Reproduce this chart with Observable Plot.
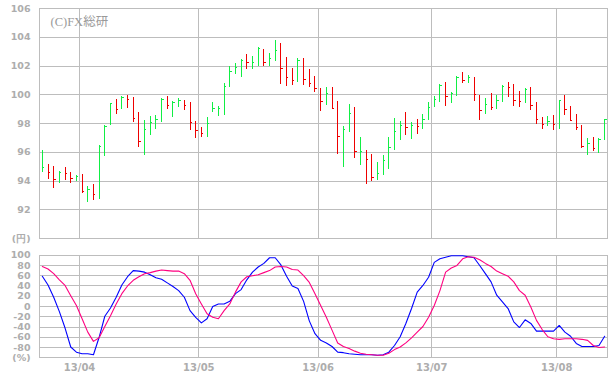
<!DOCTYPE html>
<html><head><meta charset="utf-8">
<script src="https://cdn.jsdelivr.net/npm/d3@7"></script>
<script src="https://cdn.jsdelivr.net/npm/@observablehq/plot@0.6"></script>
<style>
body{margin:0;background:#fff;}
#c{position:relative;width:610px;height:380px;overflow:hidden;}
#c svg{position:absolute;left:0;}
</style></head><body><div id="c"></div>
<script>
// Daily bars (high / low / close), 100 trading days, 2013/03 – 2013/08
const high = [96.12,95.14,95.00,94.63,94.93,94.56,94.40,94.42,93.63,93.74,
96.44,97.84,99.40,99.65,99.86,99.93,99.81,98.77,98.21,98.47,
98.56,99.74,99.88,99.53,99.77,99.60,99.47,98.14,97.72,98.42,
99.47,99.16,100.79,101.98,102.19,102.47,102.81,102.67,103.30,103.16,
102.88,103.79,103.58,102.60,101.86,102.51,102.53,101.79,101.28,100.42,
100.47,100.51,99.53,97.79,99.33,99.12,97.02,96.12,95.84,95.28,
95.77,97.02,98.35,98.14,98.77,98.07,98.26,98.60,99.47,99.88,
100.72,100.86,100.14,101.28,101.56,101.35,101.21,99.95,99.74,100.09,
99.93,100.63,100.86,100.70,100.26,100.44,100.51,99.49,98.40,98.49,
98.56,99.58,99.95,99.19,98.63,97.86,96.98,97.02,96.95,98.30];
const low = [94.56,94.12,93.51,93.84,94.02,93.84,93.98,93.16,92.51,92.67,
92.70,95.72,97.84,98.60,98.95,99.07,98.07,96.30,95.79,97.19,
97.60,98.09,98.95,98.44,99.14,98.93,97.53,96.98,97.00,97.05,
98.79,98.51,98.56,100.47,101.44,101.23,101.79,101.79,102.00,102.00,
102.00,102.28,100.74,100.60,100.67,100.88,100.67,100.49,100.19,98.86,
99.28,98.95,95.86,94.95,97.40,95.58,95.09,93.77,93.98,94.05,
94.40,94.81,96.14,96.84,97.19,96.91,97.23,97.56,98.23,99.14,
99.49,99.21,99.42,99.86,100.77,100.79,99.56,98.23,98.65,98.88,
99.00,99.44,99.79,99.21,99.14,99.37,98.88,97.91,97.60,97.77,
97.53,97.60,98.58,98.19,97.49,96.28,95.79,96.05,95.88,96.79];
const close = [94.93,94.56,94.12,94.56,94.49,94.19,94.33,93.30,93.44,93.07,
96.40,97.79,99.37,98.98,99.79,99.65,98.33,96.72,97.56,98.07,
98.26,99.65,99.23,99.47,99.58,99.28,98.07,97.49,97.33,97.98,
99.02,99.02,100.58,101.60,101.88,102.40,102.21,102.21,103.23,102.23,
102.53,103.07,101.81,101.19,101.02,102.37,101.05,100.79,100.42,99.51,
100.09,99.02,97.07,97.58,98.67,96.02,96.02,95.47,94.26,94.51,
95.40,96.35,97.42,97.84,97.70,97.84,97.77,98.28,99.14,99.67,
100.67,99.86,100.07,101.21,100.98,101.19,100.00,98.88,99.35,99.09,
99.60,100.56,100.49,99.58,99.51,100.40,99.23,98.26,97.91,98.12,
97.91,99.58,98.95,98.21,97.72,96.42,96.60,96.23,96.91,98.26];
// Oscillator (%K blue, %D pink)
const oscK = [59,42,18,-10,-42,-79,-89,-92,-92,-94,
-60,-19,-3,18,42,58,70,69,67,62,
56,53,46,39,31,18,-8,-21,-32,-24,
0,5,5,10,25,33,52,67,77,84,
95,95,81,59,40,35,10,-28,-53,-66,
-71,-78,-89,-90,-92,-93,-94,-94,-94,-95,
-94,-89,-76,-59,-33,-4,28,41,57,86,
93,96,99,99,99,97,95,80,64,48,
22,9,-4,-30,-41,-26,-33,-48,-48,-48,
-48,-37,-50,-58,-72,-78,-78,-78,-76,-58];
const oscD = [78,73,64,52,41,21,2,-24,-50,-68,
-61,-39,-18,5,25,40,51,58,64,66,
69,71,70,69,69,64,51,25,5,-14,
-21,-24,-8,5,28,48,58,60,62,66,
70,77,78,77,72,71,60,47,25,2,
-21,-46,-71,-78,-82,-87,-91,-93,-94,-95,
-95,-91,-84,-79,-71,-61,-50,-39,-21,2,
31,67,75,80,93,97,96,91,84,78,
69,64,59,48,31,22,-1,-27,-45,-59,
-63,-64,-63,-63,-63,-64,-66,-76,-80,-79];
// Month boundaries (index of first bar of month) and labels
const monthStart = [7, 28, 49, 69, 91];
const monthLabels = ["13/04", "13/05", "13/06", "13/07", "13/08"];
const priceTicks = [90, 92, 94, 96, 98, 100, 102, 104, 106];
const priceTickLabels = ["(円)", "92", "94", "96", "98", "100", "102", "104", "106"];
const oscTicks = [-100, -80, -60, -40, -20, 0, 20, 40, 60, 80, 100];
const oscTickLabels = ["(%)", "-80", "-60", "-40", "-20", "0", "20", "40", "60", "80", "100"];
const credit = "(C)FX総研";

const GREEN = "#11ee44", RED = "#ee0000", GRID = "#bdbdbd", LABEL = "#adadad";
const bars = high.map((h, i) => ({i, high: h, low: low[i], close: close[i],
  up: i === 0 ? true : close[i] >= close[i - 1]}));
const osc = oscK.map((k, i) => ({i, k, d: oscD[i]}));
const monthTicks = monthStart.map(d => d - 0.45);
const monthMap = new Map(monthTicks.map((t, i) => [t, monthLabels[i]]));
const priceMap = new Map(priceTicks.map((t, i) => [t, priceTickLabels[i]]));
const oscMap = new Map(oscTicks.map((t, i) => [t, oscTickLabels[i]]));
const xDomain = [-0.5, 99.5];
const font = {fontFamily: "DejaVu Sans", fontSize: "9.5px", fontWeight: "bold", color: LABEL, background: "white", overflow: "visible"};

const topPlot = Plot.plot({
  width: 610, height: 246,
  marginLeft: 39, marginRight: 3, marginTop: 8, marginBottom: 8,
  style: font,
  x: {domain: xDomain, axis: null},
  y: {domain: [90, 106], axis: null},
  marks: [
    Plot.gridY(priceTicks.slice(1, -1), {stroke: GRID, strokeOpacity: 1, shapeRendering: "crispEdges"}),
    Plot.ruleX(monthTicks, {x: d => d, stroke: GRID, shapeRendering: "crispEdges"}),
    Plot.frame({stroke: GRID, shapeRendering: "crispEdges"}),
    Plot.axisY(priceTicks, {tickSize: 0, tickPadding: 9, tickFormat: d => priceMap.get(d), fill: LABEL, label: null}),
    Plot.ruleX(bars, {filter: d => d.up, x: "i", y1: "low", y2: "high", stroke: GREEN, strokeWidth: 1, shapeRendering: "crispEdges"}),
    Plot.ruleX(bars, {filter: d => !d.up, x: "i", y1: "low", y2: "high", stroke: RED, strokeWidth: 1, shapeRendering: "crispEdges"}),
    Plot.ruleY(bars, {filter: d => d.up, x1: "i", x2: d => d.i + 0.42, y: "close", stroke: GREEN, shapeRendering: "crispEdges"}),
    Plot.ruleY(bars, {filter: d => !d.up, x1: "i", x2: d => d.i + 0.42, y: "close", stroke: RED, shapeRendering: "crispEdges"}),
    Plot.text([credit], {frameAnchor: "top-left", dx: 11, dy: 9, text: d => d, fill: "#9a9a9a",
      fontFamily: "Liberation Serif, Noto Sans CJK JP", fontSize: 12.5, fontWeight: "normal", textAnchor: "start", lineAnchor: "top"})
  ]
});

const botPlot = Plot.plot({
  width: 610, height: 134,
  marginLeft: 39, marginRight: 3, marginTop: 8.7, marginBottom: 22.7,
  style: font,
  x: {domain: xDomain, axis: null},
  y: {domain: [-100, 100], axis: null},
  marks: [
    Plot.gridY(oscTicks.slice(1, -1), {stroke: GRID, strokeOpacity: 1, shapeRendering: "crispEdges"}),
    Plot.ruleX(monthTicks, {x: d => d, stroke: GRID, shapeRendering: "crispEdges"}),
    Plot.frame({stroke: GRID, shapeRendering: "crispEdges"}),
    Plot.axisY(oscTicks, {tickSize: 0, tickPadding: 9, tickFormat: d => oscMap.get(d), fill: LABEL, label: null}),
    Plot.axisX(monthTicks, {tickSize: 0, tickPadding: 6.5, tickFormat: d => monthMap.get(d), fill: LABEL, fontSize: 10, label: null}),
    Plot.line(osc, {x: "i", y: "k", stroke: "#0000ff", strokeWidth: 1.1}),
    Plot.line(osc, {x: "i", y: "d", stroke: "#ff0080", strokeWidth: 1.1})
  ]
});

const c = document.getElementById("c");
topPlot.style.top = "0px";
botPlot.style.top = "246px";
c.appendChild(topPlot);
c.appendChild(botPlot);
</script>
</body></html>
